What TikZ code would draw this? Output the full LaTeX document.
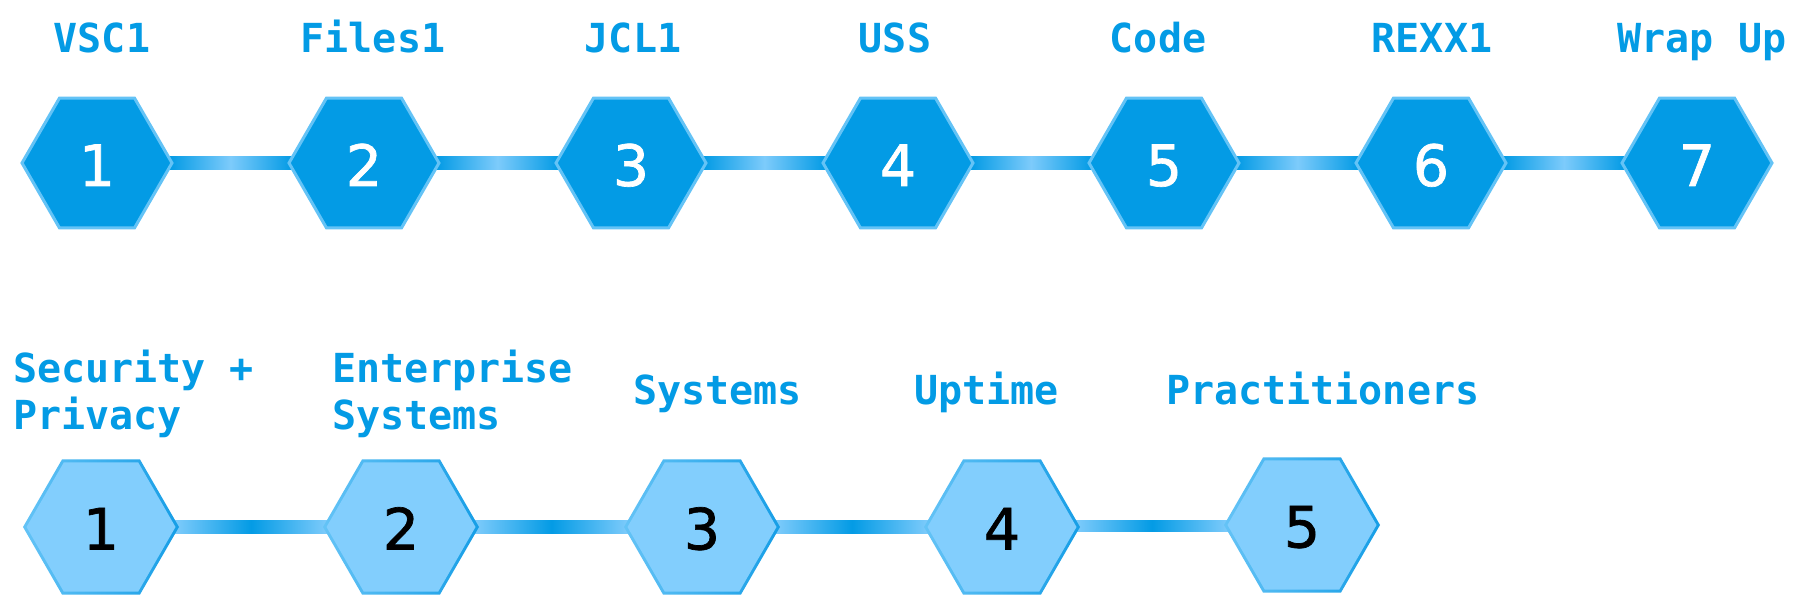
\documentclass[tikz,border=0pt]{standalone}
\usepackage{fontspec}
\setmonofont{DejaVu Sans Mono}
\newfontfamily\numfont[FakeBold=1.2]{DejaVu Sans}
\usetikzlibrary{shapes.geometric,backgrounds,calc}
\definecolor{darkb}{RGB}{3,155,229}
\definecolor{lightb}{RGB}{130,206,253}
\definecolor{rimlight}{RGB}{100,195,246}
\definecolor{rimdark}{RGB}{22,158,230}
\definecolor{connlight}{RGB}{125,203,251}
\tikzset{
  hexbase/.style={regular polygon, regular polygon sides=6, inner sep=0pt},
  tophex/.style={hexbase, minimum size=150pt, fill=darkb, draw=rimlight, line width=3pt,
    text=white, font=\numfont\fontsize{57}{57}\selectfont, text height=46pt, text depth=0pt},
  botout/.style={hexbase, minimum size=156pt, left color=rimlight, right color=rimdark},
  botin/.style={hexbase, minimum size=149pt, fill=lightb, text=black,
    font=\numfont\fontsize{57}{57}\selectfont, text height=45pt, text depth=0pt},
  toplab/.style={font=\ttfamily\bfseries\fontsize{40}{47}\selectfont, text=darkb, inner sep=0pt, anchor=base},
  botlab/.style={font=\ttfamily\bfseries\fontsize{40}{47}\selectfont, text=darkb, inner sep=0pt, anchor=base west, align=left},
  topconn/.style={left color=darkb, right color=darkb, middle color=connlight},
  botconn/.style={left color=connlight, right color=connlight, middle color=darkb}
}
\begin{document}
\begin{tikzpicture}[x=1pt,y=-1pt]
\useasboundingbox (0,0) rectangle (1800,612);
% top row
\node[tophex] (t1) at (97,163) {1};
\node[tophex] (t2) at (364,163) {2};
\node[tophex] (t3) at (631,163) {3};
\node[tophex] (t4) at (898,163) {4};
\node[tophex] (t5) at (1164,163) {5};
\node[tophex] (t6) at (1431,163) {6};
\node[tophex] (t7) at (1697,163) {7};
\node[toplab] (lt1) at (102,53) {VSC1};
\node[toplab] (lt2) at (373,53) {Files1};
\node[toplab] (lt3) at (633,53) {JCL1};
\node[toplab] (lt4) at (895,53) {USS};
\node[toplab] (lt5) at (1158,53) {Code};
\node[toplab] (lt6) at (1432,53) {REXX1};
\node[toplab] (lt7) at (1702,53) {Wrap Up};
% bottom row
\node[botout] (b1) at (101,527) {};
\node[botout] (b2) at (401,527) {};
\node[botout] (b3) at (702,527) {};
\node[botout] (b4) at (1002,527) {};
\node[botout] (b5) at (1302,525) {};
\node[botin] (bi1) at (b1) {1};
\node[botin] (bi2) at (b2) {2};
\node[botin] (bi3) at (b3) {3};
\node[botin] (bi4) at (b4) {4};
\node[botin] (bi5) at (b5) {5};
\node[botlab] (lb1) at (13,429) {Security +\\Privacy};
\node[botlab] (lb2) at (332,429) {Enterprise\\Systems};
\node[botlab] (lb3) at (633,405) {Systems};
\node[botlab] (lb4) at (914,405) {Uptime};
\node[botlab] (lb5) at (1166,405) {Practitioners};
% connectors
\begin{scope}[on background layer]
\fill[white] (0,0) rectangle (1800,612);
\foreach \a/\b in {t1/t2,t2/t3,t3/t4,t4/t5,t5/t6,t6/t7}{
  \fill[topconn] ($(\a.east)+(-4,-6.5)$) rectangle ($(\b.west)+(4,6.5)$);
}
\foreach \a/\b in {b1/b2,b2/b3,b3/b4,b4/b5}{
  \fill[botconn] ($(\a.east)+(-4,-6.5)$) rectangle ($(\b.west)+(4,6.5)$);
}
\end{scope}
\end{tikzpicture}
\end{document}
